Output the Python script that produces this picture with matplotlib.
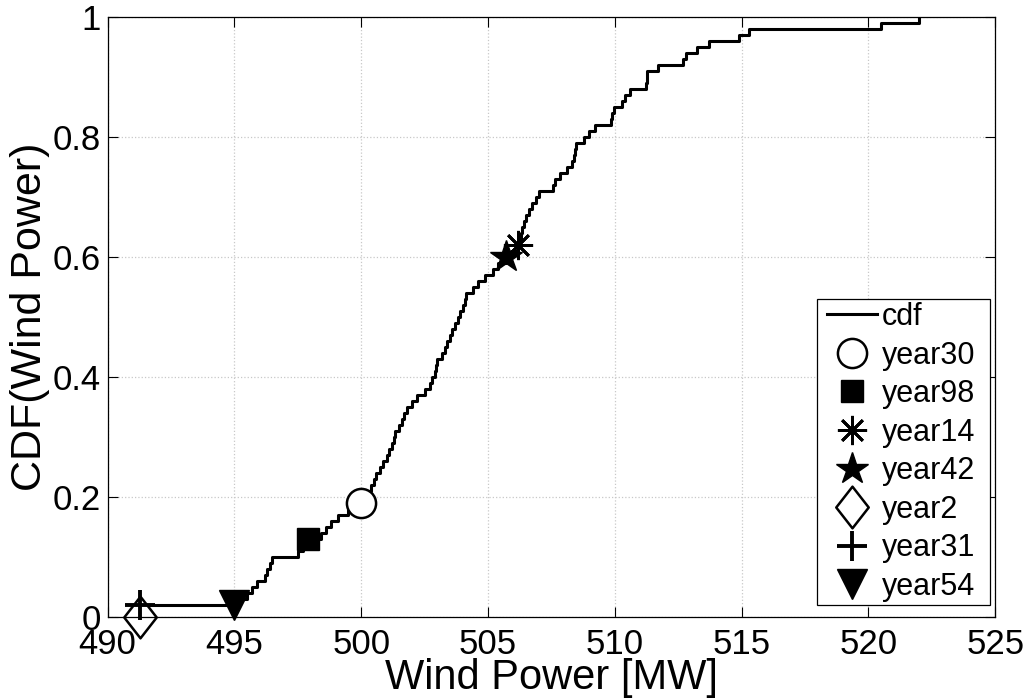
import matplotlib.pyplot as plt
from matplotlib.path import Path
from matplotlib.patches import Rectangle

plt.rcParams['font.family'] = ['Liberation Sans', 'DejaVu Sans']

# sorted wind power samples (MW)
power = [491.2, 491.3, 495.2, 495.5, 495.7, 495.9, 496.2, 496.3, 496.4, 496.5,
         497.5, 497.7, 497.9, 498.4, 498.6, 498.8, 499.1, 499.5, 500.0, 500.2,
         500.3, 500.4, 500.5, 500.6, 500.75, 500.85, 501.0, 501.1, 501.2, 501.3,
         501.35, 501.5, 501.6, 501.7, 501.8, 502.0, 502.2, 502.5, 502.7, 502.8,
         502.9, 502.95, 503.0, 503.2, 503.3, 503.4, 503.5, 503.6, 503.7, 503.8,
         503.9, 504.0, 504.1, 504.15, 504.4, 504.6, 504.9, 505.2, 505.4, 505.7,
         505.9, 506.2, 506.25, 506.3, 506.35, 506.4, 506.5, 506.6, 506.75, 506.9,
         507.0, 507.55, 507.65, 507.85, 508.1, 508.3, 508.4, 508.42, 508.45, 508.8,
         509.0, 509.2, 509.85, 509.9, 509.95, 510.3, 510.4, 510.6, 511.22, 511.25,
         511.28, 511.7, 512.7, 512.8, 513.25, 513.7, 514.9, 515.3, 520.5, 522.0]

years = ['year30', 'year98', 'year14', 'year42', 'year2', 'year31', 'year54']
year_power = [500.0, 497.9, 506.2, 505.7, 491.3, 491.3, 495.0]
year_cdf = [0.19, 0.13, 0.62, 0.60, 0.0, 0.02, 0.02]

n = len(power)
xs = [power[0]] + power
ys = [0.0] + [(i + 1) / n for i in range(n)]

tall_diamond = Path([(0, 1), (0.78, 0), (0, -1), (-0.78, 0), (0, 1)],
                    [Path.MOVETO, Path.LINETO, Path.LINETO, Path.LINETO, Path.CLOSEPOLY])

styles = [
    dict(marker='o', ms=21, mfc='white', mec='black', mew=1.8),
    dict(marker='s', ms=16, mfc='black', mec='black', mew=1.0),
    dict(marker=(8, 2, 0), ms=21, mfc='black', mec='black', mew=2.0),
    dict(marker='*', ms=24, mfc='black', mec='black', mew=1.0),
    dict(marker=tall_diamond, ms=30, mfc='white', mec='black', mew=1.8),
    dict(marker='+', ms=21, mfc='black', mec='black', mew=2.8),
    dict(marker='v', ms=21, mfc='black', mec='black', mew=1.0),
]

fig = plt.figure(figsize=(10.24, 6.98), dpi=100)
ax = fig.add_axes([0.105, 0.116, 0.867, 0.86])

ax.step(xs, ys, where='post', color='black', lw=2.2, label='cdf')
for name, px, py, st in zip(years, year_power, year_cdf, styles):
    ax.plot([px], [py], ls='none', label=name, clip_on=False, **st)

ax.set_xlim(490, 525)
ax.set_ylim(0, 1)
ax.set_xticks(range(490, 526, 5))
ax.set_yticks([0, 0.2, 0.4, 0.6, 0.8, 1])
ax.set_yticklabels(['0', '0.2', '0.4', '0.6', '0.8', '1'])
ax.grid(True, color='#c8c8c8', ls=':', lw=0.9)
ax.tick_params(direction='in', top=True, right=True, labelsize=25, length=7, width=0.8)
ax.tick_params(axis='x', pad=8)
ax.tick_params(axis='y', pad=5)
for sp in ax.spines.values():
    sp.set_linewidth(0.9)

ax.set_xlabel('Wind Power [MW]', fontsize=30, labelpad=-2)
ax.set_ylabel('CDF(Wind Power)', fontsize=31, labelpad=2)

leg = ax.legend(loc='lower right', bbox_to_anchor=(0.981, 0.02), borderaxespad=0,
                fontsize=22, frameon=False, handlelength=1.63, handletextpad=0.16,
                labelspacing=0.28, borderpad=0.1)
leg.set_zorder(6)

# matlab-like legend box: wider padding left/right than top/bottom
fig.canvas.draw()
bb = leg.get_window_extent().transformed(ax.transAxes.inverted())
pad_l = 7 / 887
pad_r = 12 / 887
ax.add_patch(Rectangle((bb.x0 - pad_l, bb.y0), bb.width + pad_l + pad_r, bb.height,
                       transform=ax.transAxes, facecolor='white', edgecolor='black',
                       lw=0.9, zorder=5.5))

fig.savefig('out.png', dpi=100)
